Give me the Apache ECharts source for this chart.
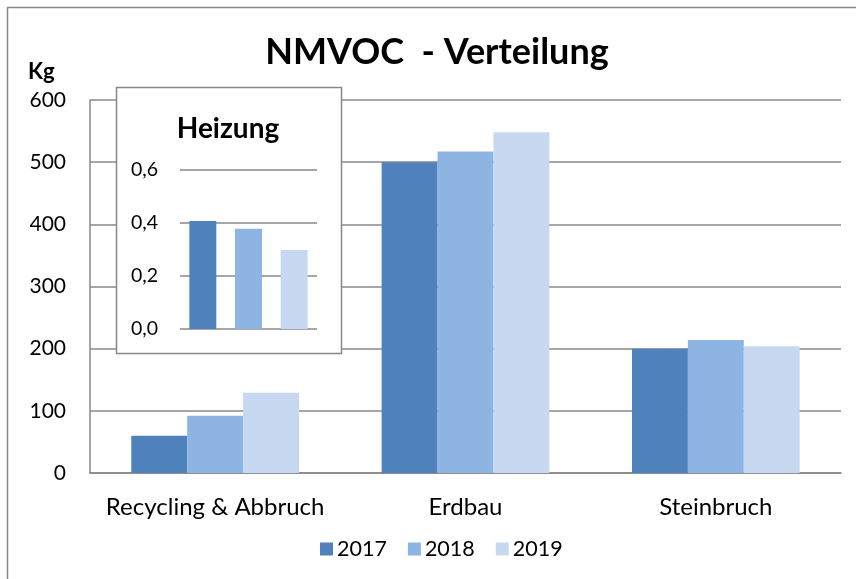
<!DOCTYPE html>
<html>
<head>
<meta charset="utf-8">
<script src="https://cdn.jsdelivr.net/npm/echarts@6/dist/echarts.min.js"></script>
<style>
  html, body { margin: 0; padding: 0; background: #fff; }
  #chart { width: 856px; height: 579px; }
</style>
</head>
<body>
<div id="chart"></div>
<script>
// Hauptdiagramm
var categories = ['Recycling & Abbruch', 'Erdbau', 'Steinbruch'];
var years = ['2017', '2018', '2019'];
var values2017 = [60, 500, 200];
var values2018 = [92, 517, 214];
var values2019 = [129, 548, 204];
var yTicks = [0, 100, 200, 300, 400, 500, 600];

// Einschub Heizung
var heizungYears = ['2017', '2018', '2019'];
var heizungValues = [0.408, 0.378, 0.298];
var heizungTicks = [0.0, 0.2, 0.4, 0.6];

var colors = ['#4F81BD', '#8EB4E3', '#C6D9F1'];
var font = 'Lato';

var myChart = echarts.init(document.getElementById('chart'));

function makeSeries(name, data, color){
    return {
        name: name,
        type: 'bar',
        xAxisIndex: 0,
        yAxisIndex: 0,
        data: data,
        barGap: '0%',
        barCategoryGap: '33%',
        itemStyle: { color: color },
        silent: true
    };
}

var option = {
    animation: false,
    backgroundColor: '#fff',
    color: colors,
    textStyle: { fontFamily: font },
    title: [
        {
            text: 'NMVOC  - Verteilung',
            left: 432, top: 29, textAlign: 'center',
            textStyle: { fontFamily: font, fontSize: 36, fontWeight: 'bold', color: '#000' }
        },
        {
            text: 'Heizung',
            left: 223, top: 110, textAlign: 'center', z: 12,
            textStyle: { fontFamily: font, fontSize: 28, fontWeight: 'bold', color: '#000' }
        }
    ],
    legend: {
        data: years,
        left: 315, top: 533,
        itemWidth: 13, itemHeight: 13, itemGap: 21,
        icon: 'rect',
        textStyle: { fontFamily: font, fontSize: 21.5, color: '#000', padding: [0, 0, 0, -1] }
    },
    grid: [
        { left: 90, right: 15, top: 100, bottom: 106 },
        { left: 180, right: 539, top: 170, bottom: 250, z: 10 }
    ],
    xAxis: [
        {
            type: 'category', gridIndex: 0, data: categories,
            axisLine: { lineStyle: { color: '#888', width: 1.5 } },
            axisTick: { show: false },
            axisLabel: { fontFamily: font, fontSize: 24, color: '#000', margin: 22, interval: 0 }
        },
        {
            type: 'category', gridIndex: 1, data: heizungYears, z: 10,
            axisLine: { show: false },
            axisTick: { show: false },
            axisLabel: { show: false }
        }
    ],
    yAxis: [
        {
            type: 'value', gridIndex: 0,
            min: yTicks[0], max: yTicks[yTicks.length - 1], interval: 100,
            axisLine: { show: true, lineStyle: { color: '#888', width: 1.5 } },
            axisTick: { show: false },
            splitLine: { lineStyle: { color: '#888', width: 1.5 } },
            axisLabel: { fontFamily: font, fontSize: 21, color: '#000', margin: 24 }
        },
        {
            type: 'value', gridIndex: 1, z: 10,
            min: heizungTicks[0], max: heizungTicks[heizungTicks.length - 1], interval: 0.2,
            axisLine: { show: false },
            axisTick: { show: false },
            splitLine: { lineStyle: { color: '#888', width: 1.5 } },
            axisLabel: {
                fontFamily: font, fontSize: 19.5, color: '#000', margin: 22,
                formatter: function(v){ return v.toFixed(1).replace('.', ','); }
            }
        }
    ],
    graphic: [
        {   // Rahmen aussen
            type: 'rect', z: 0, silent: true,
            shape: { x: 7.5, y: 7.5, width: 870, height: 600 },
            style: { fill: null, stroke: '#888', lineWidth: 1.5 }
        },
        {   // Kasten Heizung
            type: 'rect', z: 5, silent: true,
            shape: { x: 116.5, y: 87.5, width: 225, height: 266 },
            style: { fill: '#fff', stroke: '#888', lineWidth: 1.5 }
        },
        {
            type: 'text', left: 28, top: 61, silent: true,
            style: { text: 'Kg', font: 'bold 22px ' + font, fill: '#000' }
        }
    ],
    series: [
        makeSeries(years[0], values2017, colors[0]),
        makeSeries(years[1], values2018, colors[1]),
        makeSeries(years[2], values2019, colors[2]),
        {
            name: 'Heizung', type: 'bar', xAxisIndex: 1, yAxisIndex: 1, z: 10,
            data: heizungValues.map(function(v, i){
                return { value: v, itemStyle: { color: colors[i] } };
            }),
            barCategoryGap: '41%',
            silent: true
        }
    ]
};

myChart.setOption(option);
</script>
</body>
</html>
